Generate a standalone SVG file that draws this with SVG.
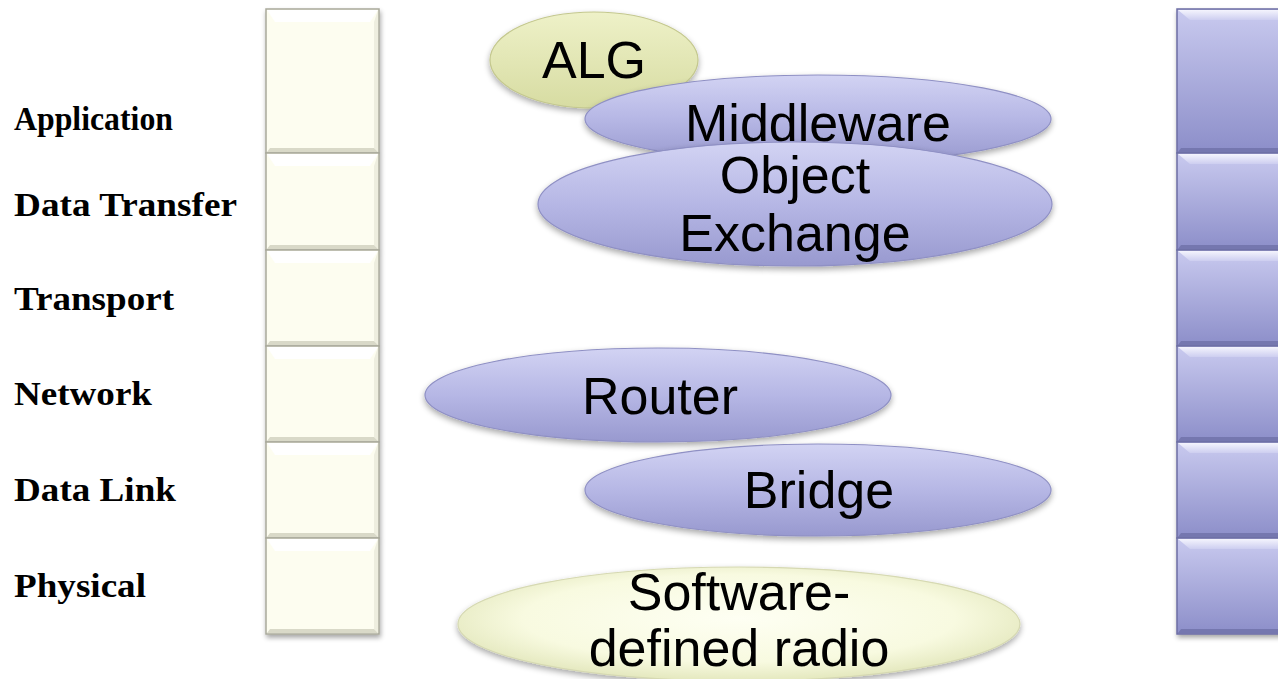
<svg xmlns="http://www.w3.org/2000/svg" width="1278" height="679" viewBox="0 0 1278 679">
  <defs>
    <style>
      .layer-label { font-family: "Liberation Serif", "Times New Roman", serif; font-weight: bold; font-size: 34px; fill: #000; }
      .node-text { font-family: "Liberation Sans", Arial, sans-serif; font-size: 52px; fill: #000; text-anchor: middle; }
      .cream-face { fill: #FDFDF0; stroke: #A9A99B; stroke-width: 1.5; }
      .cream-top { fill: #FFFFFF; }
      .cream-side { fill: #EEEEDF; }
      .cream-bottom { fill: #D9D9C8; }
      .blue-face { fill: url(#blueBox); stroke: #6C6EA4; stroke-width: 1.5; }
      .blue-top { fill: url(#blueTopBevel); }
      .blue-bottom { fill: #7577AF; }
      .purple-oval { fill: url(#purpleOval); stroke: #8F90C4; stroke-width: 1.2; filter: url(#softShadow); }
      .alg-oval { fill: url(#algOval); stroke: #C4C88E; stroke-width: 1.2; filter: url(#softShadow); }
      .radio-oval { fill: url(#radioOval); stroke: #D6D9B2; stroke-width: 1.2; filter: url(#softShadow); }
    </style>
    <filter id="softShadow" x="-10%" y="-20%" width="120%" height="150%">
      <feGaussianBlur in="SourceAlpha" stdDeviation="3"/>
      <feOffset dx="0" dy="3" result="blur"/>
      <feComponentTransfer><feFuncA type="linear" slope="0.35"/></feComponentTransfer>
      <feMerge><feMergeNode/><feMergeNode in="SourceGraphic"/></feMerge>
    </filter>
    <filter id="boxShadow" x="-20%" y="-5%" width="140%" height="115%">
      <feGaussianBlur in="SourceAlpha" stdDeviation="2.5"/>
      <feOffset dx="1" dy="3" result="blur"/>
      <feComponentTransfer><feFuncA type="linear" slope="0.35"/></feComponentTransfer>
      <feMerge><feMergeNode/><feMergeNode in="SourceGraphic"/></feMerge>
    </filter>
    <linearGradient id="blueBox" x1="0" y1="0" x2="0" y2="1">
      <stop offset="0" stop-color="#C9CAEF"/>
      <stop offset="1" stop-color="#8C8EC9"/>
    </linearGradient>
    <linearGradient id="blueTopBevel" x1="0" y1="0" x2="0" y2="1">
      <stop offset="0" stop-color="#F4F4FD"/>
      <stop offset="1" stop-color="#CDCEF0"/>
    </linearGradient>
    <linearGradient id="purpleOval" x1="0" y1="0" x2="0" y2="1">
      <stop offset="0" stop-color="#D2D3F3"/>
      <stop offset="0.5" stop-color="#B6B7E5"/>
      <stop offset="1" stop-color="#9899CF"/>
    </linearGradient>
    <linearGradient id="algOval" x1="0" y1="0" x2="0" y2="1">
      <stop offset="0" stop-color="#EEF1C8"/>
      <stop offset="1" stop-color="#D7DCA2"/>
    </linearGradient>
    <radialGradient id="radioOval" cx="0.5" cy="0.45" r="0.55">
      <stop offset="0" stop-color="#FEFFF3"/>
      <stop offset="0.7" stop-color="#F8FAE0"/>
      <stop offset="1" stop-color="#E4E8BE"/>
    </radialGradient>
  </defs>

  <!-- left protocol stack: cream bevelled cells -->
  <g id="left-stack" filter="url(#boxShadow)">
    <g id="left-cell-1">
      <rect class="cream-face" x="266" y="9" width="113" height="144"/>
      <polygon class="cream-top" points="267,10 378,10 370,22 275,22"/>
      <polygon class="cream-side" points="374,22 378,10 378,152 374,148"/>
      <polygon class="cream-bottom" points="267,152 378,152 374,148 270,148"/>
    </g>
    <g id="left-cell-2">
      <rect class="cream-face" x="266" y="153" width="113" height="97"/>
      <polygon class="cream-top" points="267,154 378,154 370,166 275,166"/>
      <polygon class="cream-side" points="374,166 378,154 378,249 374,245"/>
      <polygon class="cream-bottom" points="267,249 378,249 374,245 270,245"/>
    </g>
    <g id="left-cell-3">
      <rect class="cream-face" x="266" y="250" width="113" height="96"/>
      <polygon class="cream-top" points="267,251 378,251 370,263 275,263"/>
      <polygon class="cream-side" points="374,263 378,251 378,345 374,341"/>
      <polygon class="cream-bottom" points="267,345 378,345 374,341 270,341"/>
    </g>
    <g id="left-cell-4">
      <rect class="cream-face" x="266" y="346" width="113" height="96"/>
      <polygon class="cream-top" points="267,347 378,347 370,359 275,359"/>
      <polygon class="cream-side" points="374,359 378,347 378,441 374,437"/>
      <polygon class="cream-bottom" points="267,441 378,441 374,437 270,437"/>
    </g>
    <g id="left-cell-5">
      <rect class="cream-face" x="266" y="442" width="113" height="96"/>
      <polygon class="cream-top" points="267,443 378,443 370,455 275,455"/>
      <polygon class="cream-side" points="374,455 378,443 378,537 374,533"/>
      <polygon class="cream-bottom" points="267,537 378,537 374,533 270,533"/>
    </g>
    <g id="left-cell-6">
      <rect class="cream-face" x="266" y="538" width="113" height="96"/>
      <polygon class="cream-top" points="267,539 378,539 370,551 275,551"/>
      <polygon class="cream-side" points="374,551 378,539 378,633 374,629"/>
      <polygon class="cream-bottom" points="267,633 378,633 374,629 270,629"/>
    </g>
  </g>

  <!-- right protocol stack: blue bevelled cells running off the right edge -->
  <g id="right-stack" filter="url(#boxShadow)">
    <g id="right-cell-1">
      <rect class="blue-face" x="1177" y="9" width="120" height="144"/>
      <polygon class="blue-top" points="1178,10 1297,10 1297,20 1190,20"/>
      <polygon class="blue-bottom" points="1178,152 1297,152 1297,148 1181,148"/>
    </g>
    <g id="right-cell-2">
      <rect class="blue-face" x="1177" y="153" width="120" height="97"/>
      <polygon class="blue-top" points="1178,154 1297,154 1297,164 1190,164"/>
      <polygon class="blue-bottom" points="1178,249 1297,249 1297,245 1181,245"/>
    </g>
    <g id="right-cell-3">
      <rect class="blue-face" x="1177" y="250" width="120" height="96"/>
      <polygon class="blue-top" points="1178,251 1297,251 1297,261 1190,261"/>
      <polygon class="blue-bottom" points="1178,345 1297,345 1297,341 1181,341"/>
    </g>
    <g id="right-cell-4">
      <rect class="blue-face" x="1177" y="346" width="120" height="96"/>
      <polygon class="blue-top" points="1178,347 1297,347 1297,357 1190,357"/>
      <polygon class="blue-bottom" points="1178,441 1297,441 1297,437 1181,437"/>
    </g>
    <g id="right-cell-5">
      <rect class="blue-face" x="1177" y="442" width="120" height="96"/>
      <polygon class="blue-top" points="1178,443 1297,443 1297,453 1190,453"/>
      <polygon class="blue-bottom" points="1178,537 1297,537 1297,533 1181,533"/>
    </g>
    <g id="right-cell-6">
      <rect class="blue-face" x="1177" y="538" width="120" height="96"/>
      <polygon class="blue-top" points="1178,539 1297,539 1297,549 1190,549"/>
      <polygon class="blue-bottom" points="1178,633 1297,633 1297,629 1181,629"/>
    </g>
  </g>

  <!-- layer names -->
  <g id="layer-labels">
    <text class="layer-label" x="14" y="130" font-size="29" textLength="159" lengthAdjust="spacingAndGlyphs">Application</text>
    <text class="layer-label" x="14" y="216" textLength="223" lengthAdjust="spacingAndGlyphs">Data Transfer</text>
    <text class="layer-label" x="14" y="310" textLength="160" lengthAdjust="spacingAndGlyphs">Transport</text>
    <text class="layer-label" x="14" y="405" textLength="138" lengthAdjust="spacingAndGlyphs">Network</text>
    <text class="layer-label" x="14" y="501" textLength="162" lengthAdjust="spacingAndGlyphs">Data Link</text>
    <text class="layer-label" x="14" y="597" textLength="132" lengthAdjust="spacingAndGlyphs">Physical</text>
  </g>

  <!-- interconnection devices -->
  <g id="alg">
    <ellipse class="alg-oval" cx="594" cy="60" rx="104" ry="48"/>
    <text class="node-text" x="594" y="78">ALG</text>
  </g>
  <g id="middleware">
    <ellipse class="purple-oval" cx="818" cy="119" rx="233" ry="44"/>
    <text class="node-text" x="818" y="141">Middleware</text>
  </g>
  <g id="object-exchange">
    <ellipse class="purple-oval" cx="795" cy="204" rx="257" ry="62"/>
    <text class="node-text" x="795" y="193">Object</text>
    <text class="node-text" x="795" y="251">Exchange</text>
  </g>
  <g id="router">
    <ellipse class="purple-oval" cx="658" cy="395" rx="233" ry="47"/>
    <text class="node-text" x="660" y="414">Router</text>
  </g>
  <g id="bridge">
    <ellipse class="purple-oval" cx="818" cy="490" rx="233" ry="46"/>
    <text class="node-text" x="819" y="508">Bridge</text>
  </g>
  <g id="software-defined-radio">
    <ellipse class="radio-oval" cx="739" cy="624" rx="281" ry="57"/>
    <text class="node-text" x="739" y="610">Software-</text>
    <text class="node-text" x="739" y="666">defined radio</text>
  </g>
</svg>
